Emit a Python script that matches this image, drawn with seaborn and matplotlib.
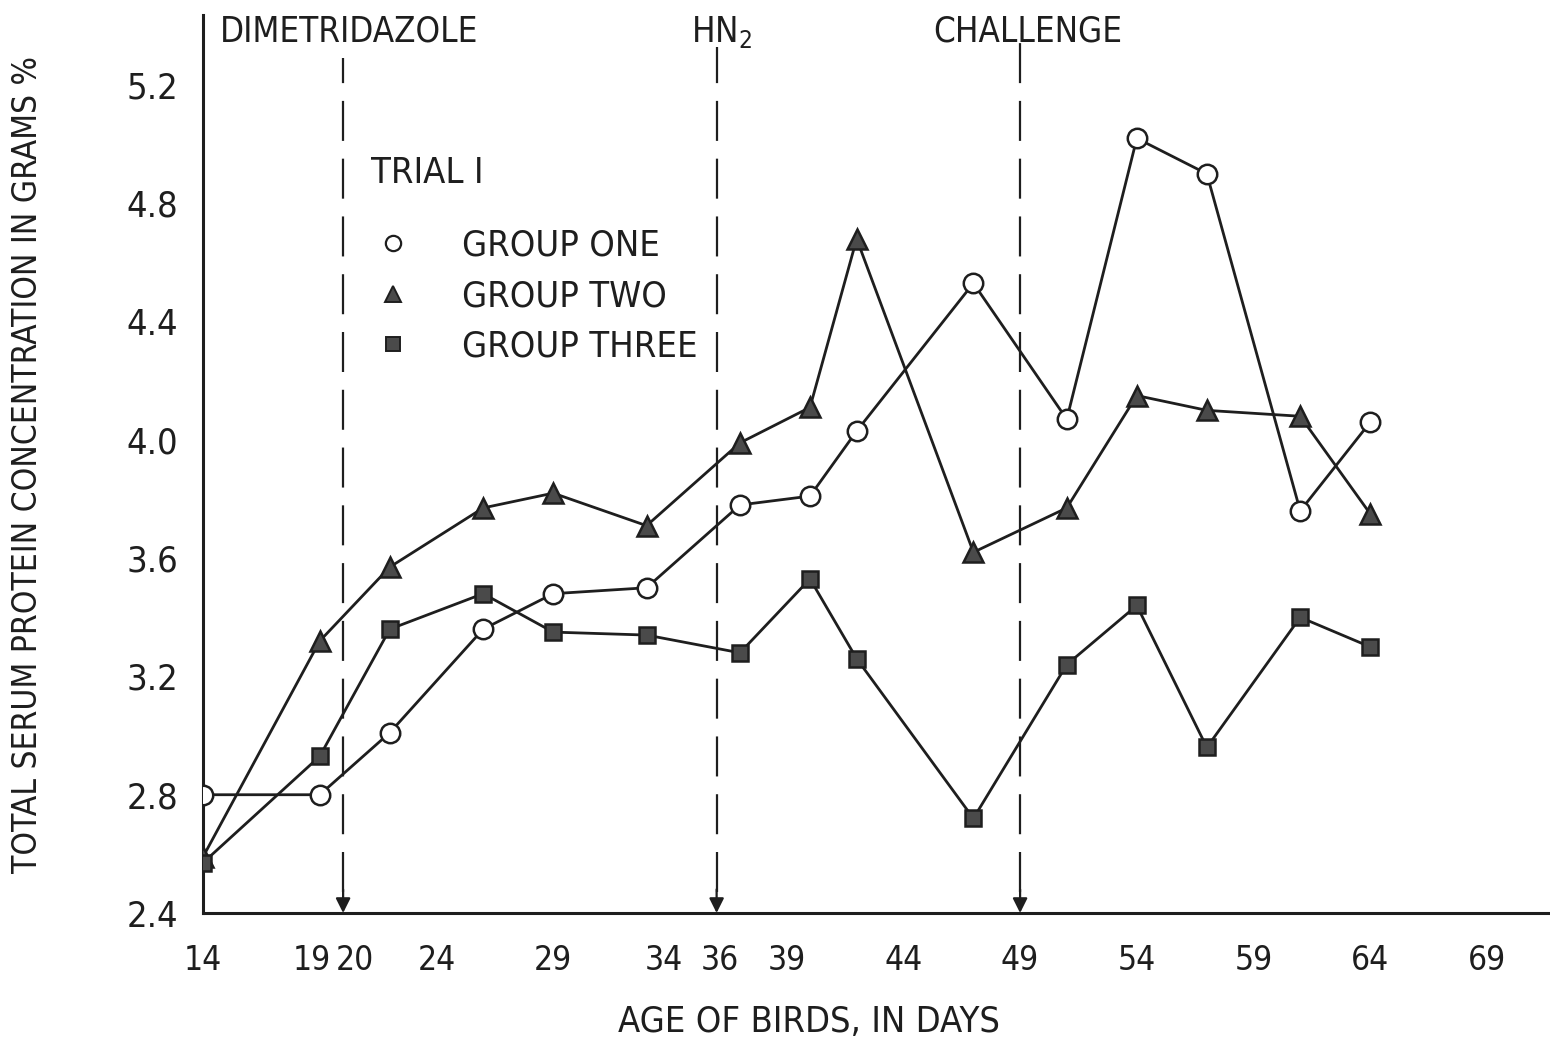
import matplotlib
matplotlib.use("Agg")
import matplotlib.pyplot as plt
from matplotlib.lines import Line2D
import matplotlib.transforms as mtransforms
import numpy as np
import pandas as pd
import seaborn as sns

# Sampling ages (days) and total serum protein (g %) for each group
days = [14, 19, 22, 26, 29, 33, 37, 40, 42, 47, 51, 54, 57, 61, 64]
group_one = [2.80, 2.80, 3.01, 3.36, 3.48, 3.50, 3.78, 3.81, 4.03, 4.53, 4.07, 5.02, 4.90, 3.76, 4.06]
group_two = [2.59, 3.32, 3.57, 3.77, 3.82, 3.71, 3.99, 4.11, 4.68, 3.62, 3.77, 4.15, 4.10, 4.08, 3.75]
group_three = [2.57, 2.93, 3.36, 3.48, 3.35, 3.34, 3.28, 3.53, 3.26, 2.72, 3.24, 3.44, 2.96, 3.40, 3.30]

group_names = ["GROUP ONE", "GROUP TWO", "GROUP THREE"]
x_ticks = [14, 19, 20, 24, 29, 34, 36, 39, 44, 49, 54, 59, 64, 69]
y_ticks = [2.4, 2.8, 3.2, 3.6, 4.0, 4.4, 4.8, 5.2]
events = [(20, "DIMETRIDAZOLE"), (36, "HN$_2$"), (49, "CHALLENGE")]

df = pd.DataFrame({
    "day": days * 3,
    "protein": group_one + group_two + group_three,
    "group": np.repeat(group_names, len(days)),
})

sns.set_theme(style="white")
plt.rcParams["font.family"] = ["Liberation Sans Narrow", "DejaVu Sans"]
plt.rcParams["font.stretch"] = "condensed"

INK = "#1e1e1e"
FILL = "#4a4a4a"

fig = plt.figure(figsize=(15.5, 10.51), dpi=100)
ax = fig.add_axes([0.131, 0.1313, 0.869, 0.8544])

styles = {
    "GROUP ONE": dict(marker="o", mfc="white", ms=14),
    "GROUP TWO": dict(marker="^", mfc=FILL, ms=15),
    "GROUP THREE": dict(marker="s", mfc=FILL, ms=12),
}
for name in group_names:
    sub = df[df["group"] == name]
    st = styles[name]
    sns.lineplot(data=sub, x="day", y="protein", ax=ax, color=INK, lw=2.0,
                 marker=st["marker"], markersize=st["ms"],
                 markerfacecolor=st["mfc"], markeredgecolor=INK,
                 markeredgewidth=1.8, legend=False, zorder=3)

ax.set_xlim(14, 71.7)
ax.set_ylim(2.4, 5.437)

# Treatment markers: dashed verticals with a downward arrow onto the axis
tops = {20: 5.29, 36: 5.33, 49: 5.36}
for d, label in events:
    ax.vlines(d, 2.47, tops[d], colors=INK, linestyles=(0, (18, 8)), lw=1.6, zorder=2)
    ax.annotate("", xy=(d, 2.4), xytext=(d, 2.48),
                arrowprops=dict(arrowstyle="-|>", color=INK, lw=1.6,
                                mutation_scale=22, shrinkA=0, shrinkB=0))

ax.text(14.7, 5.38, "DIMETRIDAZOLE", fontsize=25, color=INK, va="center", ha="left")
ax.text(34.9, 5.38, "HN$_2$", fontsize=25, color=INK, va="center", ha="left")
ax.text(45.3, 5.38, "CHALLENGE", fontsize=25, color=INK, va="center", ha="left")

sns.despine(ax=ax, top=True, right=True)
for side in ("left", "bottom"):
    ax.spines[side].set_color(INK)
    ax.spines[side].set_linewidth(2.2)

ax.set_xticks(x_ticks)
ax.set_xticklabels([str(t) for t in x_ticks])
ax.set_yticks(y_ticks)
ax.set_yticklabels([f"{t:.1f}" for t in y_ticks])
ax.tick_params(axis="both", direction="in", length=14, width=1.8, color=INK,
               labelsize=26, labelcolor=INK)
ax.tick_params(axis="x", pad=22, labelsize=24)
ax.tick_params(axis="y", pad=18)
for t, val in zip(ax.xaxis.get_major_ticks(), x_ticks):
    if val in (14, 20, 36, 49):
        t.tick1line.set_visible(False)
for t, val in zip(ax.yaxis.get_major_ticks(), y_ticks):
    if val == 2.4:
        t.tick1line.set_visible(False)

# Nudge the crowded label pairs apart
nudges = {19: -8, 20: 12, 34: -6, 36: 3}
for lab, val in zip(ax.get_xticklabels(), x_ticks):
    if val in nudges:
        lab.set_transform(lab.get_transform() +
                          mtransforms.ScaledTranslation(nudges[val] / 100, 0, fig.dpi_scale_trans))

ax.set_xlabel("AGE OF BIRDS, IN DAYS", fontsize=26, color=INK)
ax.xaxis.set_label_coords(0.45, -0.103)
ax.set_ylabel("TOTAL SERUM PROTEIN CONCENTRATION IN GRAMS %", fontsize=24,
              color=INK)
ax.yaxis.set_label_coords(-0.118, 0.5)

handles = [
    Line2D([], [], ls="none", marker="o", mfc="white", mec=INK, mew=1.6, ms=11),
    Line2D([], [], ls="none", marker="^", mfc=FILL, mec=INK, mew=1.4, ms=12),
    Line2D([], [], ls="none", marker="s", mfc=FILL, mec=INK, mew=1.4, ms=10),
]
leg = ax.legend(handles, group_names, title="TRIAL I", loc="upper left",
                bbox_to_anchor=(0.125, 0.843), frameon=False, fontsize=26,
                title_fontsize=26, alignment="left", handlelength=1.2,
                handletextpad=1.32, labelspacing=0.45, borderpad=0,
                borderaxespad=0)
leg.get_title().set_color(INK)
for txt in leg.get_texts():
    txt.set_color(INK)
leg._legend_box.sep = 28

fig.savefig("out.png", dpi=100, facecolor="white")
